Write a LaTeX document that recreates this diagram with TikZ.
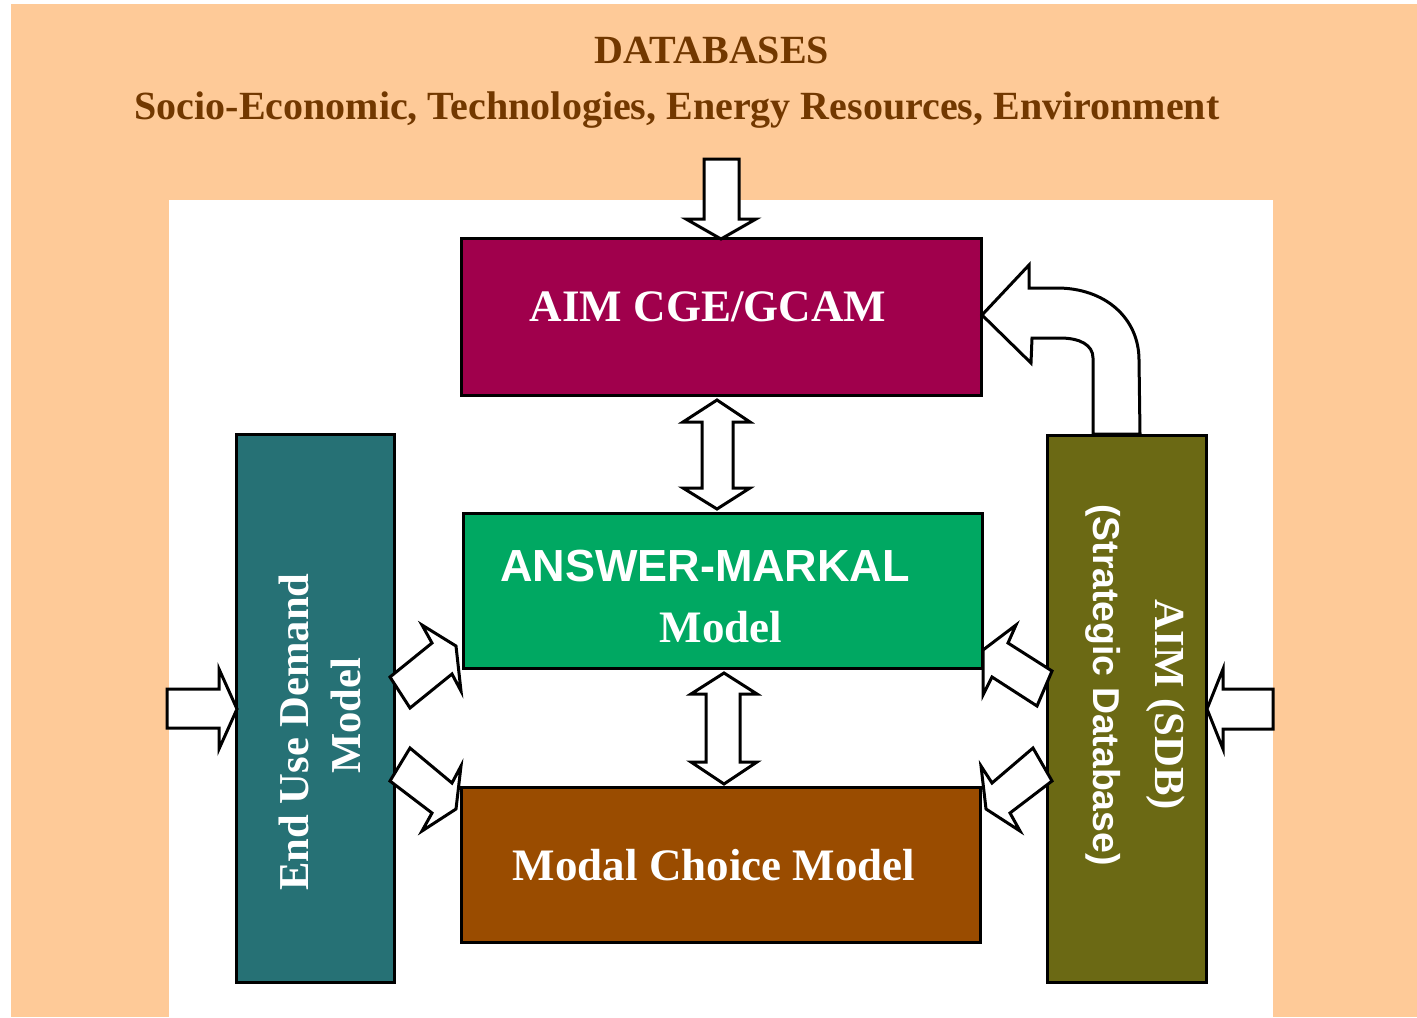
\documentclass[tikz,border=0pt]{standalone}
\usepackage{fontspec}
\setmainfont{Liberation Serif}
\newfontfamily\sansfam{Liberation Sans}
\definecolor{bgorange}{RGB}{254,202,152}
\definecolor{titlebrown}{RGB}{114,56,0}
\definecolor{cgecol}{RGB}{160,0,76}
\definecolor{markalcol}{RGB}{0,168,98}
\definecolor{modalcol}{RGB}{154,76,0}
\definecolor{endusecol}{RGB}{38,113,117}
\definecolor{sdbcol}{RGB}{107,105,20}
\begin{document}
\begin{tikzpicture}[x=0.5pt,y=-0.5pt,
  modelbox/.style={draw=black,line width=1.5pt,inner sep=0pt},
  blockarrow/.style={draw=black,fill=white,line width=1.5pt,line join=miter},
  boxtext/.style={text=white,font=\fontsize{22.5pt}{26pt}\selectfont\bfseries,inner sep=0pt,anchor=base},
  titletext/.style={text=titlebrown,inner sep=0pt,anchor=base}]
\useasboundingbox (0,0) rectangle (1417,1017);
% background panels
\fill[bgorange] (11,4) rectangle (1417,1017);
\fill[white] (169,200) rectangle (1273,1017);
% titles
\node[titletext,font=\fontsize{20pt}{23pt}\selectfont\bfseries] (dbtitle) at (712,63) {DATABASES};
\node[titletext,font=\fontsize{20pt}{23pt}\selectfont\bfseries] (dbsub) at (677,119) {Socio-Economic, Technologies, Energy Resources, Environment};
% boxes
\node[modelbox,fill=cgecol,minimum width=260pt,minimum height=78.5pt] (cge) at (721,316.5) {};
\node[modelbox,fill=markalcol,minimum width=259.5pt,minimum height=77.5pt] (markal) at (722.5,590.5) {};
\node[modelbox,fill=modalcol,minimum width=259.5pt,minimum height=77.5pt] (modal) at (720.5,864.5) {};
\node[modelbox,fill=endusecol,minimum width=79pt,minimum height=274pt] (enduse) at (315,708) {};
\node[modelbox,fill=sdbcol,minimum width=79.5pt,minimum height=273.5pt] (sdb) at (1126.5,708.5) {};
% box texts
\node[boxtext] (cgetext) at (708,321) {AIM CGE/GCAM};
\node[boxtext,font=\fontsize{22.5pt}{26pt}\selectfont\sansfam\bfseries] (markaltext) at (705,581) {ANSWER-MARKAL};
\node[boxtext] (markaltext2) at (721,642) {Model};
\node[boxtext] (modaltext) at (714,880) {Modal Choice Model};
\node[boxtext,font=\fontsize{21.3pt}{24pt}\selectfont\bfseries,rotate=90] (endusetext) at (308,732) {End Use Demand};
\node[boxtext,font=\fontsize{21.3pt}{24pt}\selectfont\bfseries,rotate=90] (endusetext2) at (360,716) {Model};
\node[boxtext,font=\fontsize{21.4pt}{24pt}\selectfont\bfseries,rotate=-90] (sdbtext) at (1155,705) {AIM (SDB)};
\node[boxtext,font=\fontsize{18.7pt}{22pt}\selectfont\sansfam\bfseries,rotate=-90] (sdbtext2) at (1093,685) {(Strategic Database)};
% block arrows
% from databases down to CGE
\draw[blockarrow] (704,159) -- (739,159) -- (739,219) -- (756,219) -- (721,239) -- (686,219) -- (704,219) -- cycle;
% CGE <-> MARKAL
\draw[blockarrow] (717,400) -- (750,422) -- (733,422) -- (733,488) -- (750,488) -- (717,509) -- (683,488) -- (702,488) -- (702,422) -- (683,422) -- cycle;
% MARKAL <-> Modal
\draw[blockarrow] (724,673) -- (757,694) -- (740,694) -- (740,762) -- (757,762) -- (724,784) -- (691,762) -- (706,762) -- (706,694) -- (691,694) -- cycle;
% left input
\draw[blockarrow] (167,689) -- (219,689) -- (219,669) -- (237,709) -- (219,749) -- (219,728) -- (167,728) -- cycle;
% right input
\draw[blockarrow] (1273,689) -- (1223,689) -- (1223,669) -- (1207,709) -- (1223,749) -- (1223,729) -- (1273,729) -- cycle;
% end use -> markal
\draw[blockarrow] (390,677) -- (432,643) -- (422,625) -- (456,646) -- (461,691) -- (452,674) -- (410,708) -- cycle;
% end use -> modal
\draw[blockarrow] (390,781) -- (410,748) -- (452,783) -- (461,766) -- (456,809) -- (422,831) -- (432,813) -- cycle;
% sdb -> markal
\draw[blockarrow] (1052,671) -- (1008,643) -- (1016,625) -- (983,650) -- (983,695) -- (992,677) -- (1037,706) -- cycle;
% sdb -> modal
\draw[blockarrow] (1052,781) -- (1033,748) -- (992,783) -- (981,766) -- (986,809) -- (1020,831) -- (1010,813) -- cycle;
% sdb -> cge (curved)
\draw[blockarrow] (982,315) -- (1029,265) -- (1029,288) -- (1057,288)
  .. controls (1105,288) and (1139,318) .. (1139,360) -- (1140,434) -- (1093,434) -- (1093,358)
  .. controls (1093,345) and (1080,338) .. (1060,338) -- (1032,338) -- (1031,363) -- cycle;
\end{tikzpicture}
\end{document}
